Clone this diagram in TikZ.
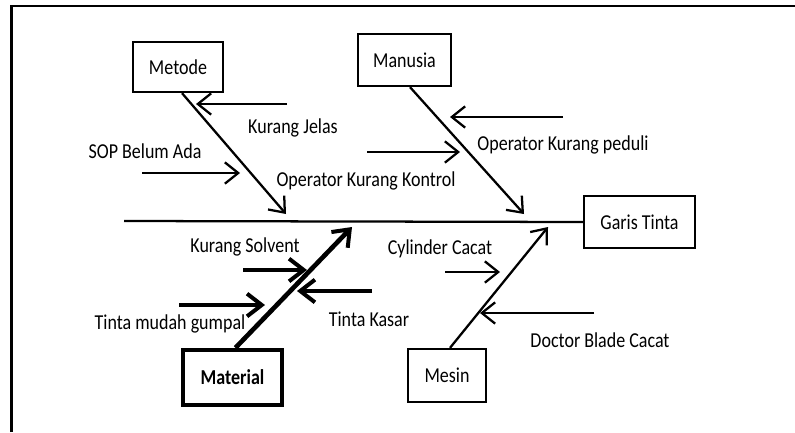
\documentclass[tikz,border=0pt]{standalone}
\usepackage{fontspec}
\setmainfont{Carlito}
\usetikzlibrary{arrows.meta,calc}
\newcommand{\tallt}[1]{\scalebox{1}[1.18]{#1}}
\begin{document}
\begin{tikzpicture}[x=0.75pt,y=-0.75pt,
  txt/.style={font=\fontsize{13.5}{15}\selectfont},
  box/.style={draw, line width=1.7pt, inner sep=0pt, txt},
  thickbox/.style={draw, line width=3.3pt, inner sep=0pt, font=\fontsize{13.5}{15}\selectfont\bfseries},
  lbl/.style={inner sep=0pt, txt},
  thin/.style={line width=1.7pt, -{Straight Barb[length=10pt,width=16pt,line width=1.7pt]}},
  heavy/.style={line width=3.5pt, -{Straight Barb[length=11pt,width=17pt,line width=3pt]}},
  spine/.style={line width=1.7pt}
]
\useasboundingbox (0,0) rectangle (795,432);
\draw[line width=2.2pt] (11.5,432) -- (11.5,6) -- (795,6);

% boxes
\node[box, minimum width=67.5pt, minimum height=37.5pt] (metode) at (178,67) {\tallt{Metode}};
\node[box, minimum width=69.75pt, minimum height=39pt] (manusia) at (404.5,60) {\tallt{Manusia}};
\node[box, minimum width=83.25pt, minimum height=39pt] (garis) at (639.5,222) {\tallt{Garis Tinta}};
\node[thickbox, minimum width=74.25pt, minimum height=41.25pt] (material) at (232.5,377.5) {\tallt{Material}};
\node[box, minimum width=58.5pt, minimum height=39.75pt] (mesin) at (447,375.5) {\tallt{Mesin}};

% spine
\coordinate (tail) at (124,221);
\draw[spine] (tail) -- (garis.west);

% bone ends
\coordinate (tMet) at (286,214);
\coordinate (tMan) at (524,214);
\coordinate (tMat) at (352,227);
\coordinate (tMes) at (548,227);

\draw[thin] ($(metode.south)+(4,0)$) -- (tMet);
\draw[thin] ($(manusia.south)+(5.5,0)$) -- (tMan);
\draw[heavy] ($(material.north)+(3,0)$) -- (tMat);
\draw[thin] ($(mesin.north)+(3,0)$) -- (tMes);

% cause arrows
\coordinate (kjA) at (287,104); \coordinate (kjB) at (196,104);
\coordinate (sopA) at (142,173); \coordinate (sopB) at (240,173);
\coordinate (okkA) at (367,152); \coordinate (okkB) at (460,152);
\coordinate (okpA) at (563,117); \coordinate (okpB) at (450,117);
\coordinate (ksA) at (243,270); \coordinate (ksB) at (307,270);
\coordinate (tmgA) at (179,305); \coordinate (tmgB) at (265,305);
\coordinate (tkA) at (372,291); \coordinate (tkB) at (297,291);
\coordinate (ccA) at (445,272); \coordinate (ccB) at (500,272);
\coordinate (dbA) at (594,313); \coordinate (dbB) at (480,313);

\draw[thin] (kjA) -- (kjB);
\draw[thin] (sopA) -- (sopB);
\draw[thin] (okkA) -- (okkB);
\draw[thin] (okpA) -- (okpB);
\draw[heavy] (ksA) -- (ksB);
\draw[heavy] (tmgA) -- (tmgB);
\draw[heavy] (tkA) -- (tkB);
\draw[thin] (ccA) -- (ccB);
\draw[thin] (dbA) -- (dbB);

% labels
\node[lbl] (lkj) at (293,128) {\tallt{Kurang Jelas}};
\node[lbl] (lsop) at (145,151) {\tallt{SOP Belum Ada}};
\node[lbl] (lokk) at (366,181) {\tallt{Operator Kurang Kontrol}};
\node[lbl] (lokp) at (563,145) {\tallt{Operator Kurang peduli}};
\node[lbl] (lks) at (245,247) {\tallt{Kurang Solvent}};
\node[lbl] (ltmg) at (170,324) {\tallt{Tinta mudah gumpal}};
\node[lbl] (ltk) at (369,319) {\tallt{Tinta Kasar}};
\node[lbl] (lcc) at (440,249) {\tallt{Cylinder Cacat}};
\node[lbl] (ldb) at (600,340) {\tallt{Doctor Blade Cacat}};
\end{tikzpicture}
\end{document}
